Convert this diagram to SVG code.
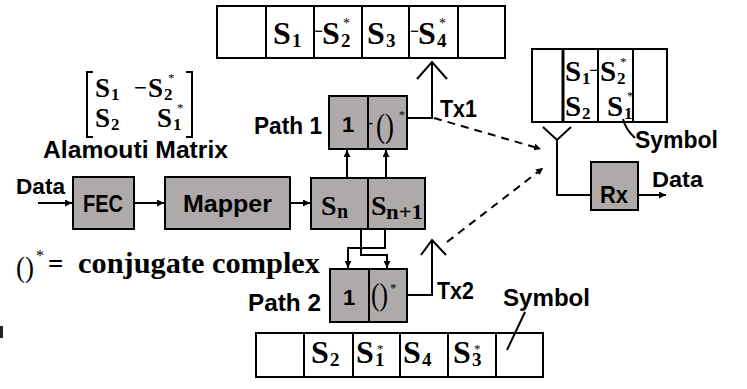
<svg xmlns="http://www.w3.org/2000/svg" width="747" height="389" viewBox="0 0 747 389">
<defs>
<style>
.box{fill:#AEAAAA;stroke:#000;stroke-width:2}
.cell{fill:#fff;stroke:#000;stroke-width:2}
.ln{fill:none;stroke:#000;stroke-width:2}
.dash{fill:none;stroke:#000;stroke-width:2;stroke-dasharray:8 6}
.lbl{font-family:"Liberation Sans",Arial,sans-serif;font-weight:bold;fill:#000}
.m{font-family:"Liberation Serif","Times New Roman",serif;font-weight:bold;fill:#000}
.mu{font-family:"Liberation Serif","Times New Roman",serif;font-weight:bold;fill:#000}
.sub{font-family:"Liberation Serif","Times New Roman",serif;font-weight:bold;fill:#000}
.ast{font-family:"Liberation Serif","Times New Roman",serif;fill:#000}
.par{font-family:"Liberation Serif","Times New Roman",serif;font-weight:normal;fill:#000}
</style>
<marker id="ah" viewBox="0 0 8 8" refX="8" refY="4" markerWidth="7" markerHeight="7" markerUnits="userSpaceOnUse" orient="auto">
<path d="M0,0 L8,4 L0,8 z" fill="#000"/>
</marker>
</defs>
<rect width="747" height="389" fill="#fff"/>

<!-- Alamouti matrix -->
<g id="matrix">
<path class="ln" d="M93,72 H87 V137 H93 M186,72 H192 V137 H186"/>
<text><tspan class="m" x="95" y="97" font-size="27">S</tspan><tspan class="sub" x="111" y="100" font-size="17">1</tspan></text>
<text class="mu" x="134" y="95" font-size="22" textLength="13" lengthAdjust="spacingAndGlyphs">−</text>
<text><tspan class="m" x="148" y="97" font-size="27">S</tspan><tspan class="sub" x="164" y="100" font-size="17">2</tspan></text>
<text class="ast" x="168" y="82" font-size="13">*</text>
<text><tspan class="m" x="95" y="127" font-size="27">S</tspan><tspan class="sub" x="111" y="130" font-size="17">2</tspan></text>
<text><tspan class="m" x="157" y="127" font-size="27">S</tspan><tspan class="sub" x="173" y="130" font-size="17">1</tspan></text>
<text class="ast" x="177" y="112" font-size="13">*</text>
<text class="lbl" x="43" y="158" font-size="23" textLength="185" lengthAdjust="spacingAndGlyphs">Alamouti Matrix</text>
</g>

<!-- conjugate legend -->
<g id="legend">
<text class="par" x="16" y="277" font-size="29" textLength="18" lengthAdjust="spacingAndGlyphs">()</text>
<text class="ast" x="36" y="261" font-size="16">*</text>
<text class="mu" x="48" y="273" font-size="27">=</text>
<text class="mu" x="78" y="273" font-size="29" textLength="242" lengthAdjust="spacingAndGlyphs">conjugate complex</text>
</g>

<!-- Data input -->
<g id="data-in"><text class="lbl" x="16" y="194" font-size="22" textLength="49" lengthAdjust="spacingAndGlyphs">Data</text></g>

<g id="fec"><rect class="box" x="73" y="177" width="61" height="52"/>
<text class="lbl" x="83" y="212" font-size="24" textLength="40" lengthAdjust="spacingAndGlyphs">FEC</text></g>

<g id="mapper"><rect class="box" x="165" y="177" width="125" height="52"/>
<text class="lbl" x="183" y="212" font-size="24" textLength="89" lengthAdjust="spacingAndGlyphs">Mapper</text></g>

<g id="sn"><rect class="box" x="311" y="178" width="114" height="51"/>
<line class="ln" x1="368" y1="178" x2="368" y2="229"/>
<text><tspan class="mu" x="321" y="215" font-size="28">S</tspan><tspan class="sub" x="337" y="218" font-size="20">n</tspan></text>
<text><tspan class="mu" x="371" y="215" font-size="28">S</tspan><tspan class="sub" x="386" y="219" font-size="20" textLength="37" lengthAdjust="spacingAndGlyphs">n+1</tspan></text>
</g>

<g id="path1"><rect class="box" x="329" y="96" width="78" height="53"/>
<line class="ln" x1="368" y1="96" x2="368" y2="149"/>
<text class="lbl" x="254" y="134" font-size="24" textLength="68" lengthAdjust="spacingAndGlyphs">Path 1</text>
<text class="lbl" x="342" y="132" font-size="22">1</text>
<text class="mu" x="368" y="128" font-size="16" textLength="5" lengthAdjust="spacingAndGlyphs">-</text>
<text class="par" x="376" y="137" font-size="33" textLength="18" lengthAdjust="spacingAndGlyphs">()</text>
<text class="ast" x="399" y="119" font-size="12">*</text>
</g>

<g id="path2"><rect class="box" x="330" y="269" width="77" height="53"/>
<line class="ln" x1="369" y1="269" x2="369" y2="322"/>
<text class="lbl" x="248" y="311" font-size="24" textLength="73" lengthAdjust="spacingAndGlyphs">Path 2</text>
<text class="lbl" x="343" y="305" font-size="22">1</text>
<text class="par" x="371" y="305" font-size="31" textLength="17" lengthAdjust="spacingAndGlyphs">()</text>
<text class="ast" x="390" y="292" font-size="13">*</text>
</g>

<g id="tx1-array">
<rect class="cell" x="217" y="6" width="288" height="52"/>
<path class="ln" d="M266,6 V58 M314,6 V58 M362,6 V58 M409,6 V58 M458,6 V58"/>
<text><tspan class="m" x="273" y="44" font-size="32">S</tspan><tspan class="sub" x="292" y="47" font-size="19">1</tspan></text>
<text class="mu" x="314" y="37" font-size="18" textLength="9" lengthAdjust="spacingAndGlyphs">−</text>
<text><tspan class="m" x="322" y="44" font-size="32">S</tspan><tspan class="sub" x="341" y="47" font-size="19">2</tspan></text>
<text class="ast" x="343" y="28" font-size="14">*</text>
<text><tspan class="m" x="367" y="44" font-size="32">S</tspan><tspan class="sub" x="386" y="47" font-size="19">3</tspan></text>
<text class="mu" x="410" y="37" font-size="18" textLength="9" lengthAdjust="spacingAndGlyphs">−</text>
<text><tspan class="m" x="418" y="44" font-size="32">S</tspan><tspan class="sub" x="437" y="47" font-size="19">4</tspan></text>
<text class="ast" x="439" y="28" font-size="14">*</text>
<text class="lbl" x="440" y="117" font-size="23" textLength="37" lengthAdjust="spacingAndGlyphs">Tx1</text>
</g>

<g id="tx2-array">
<rect class="cell" x="256" y="333" width="287" height="44"/>
<path class="ln" d="M304,333 V377 M353,333 V377 M400,333 V377 M448,333 V377 M496,333 V377"/>
<text><tspan class="m" x="311" y="363" font-size="32">S</tspan><tspan class="sub" x="330" y="366" font-size="19">2</tspan></text>
<text><tspan class="m" x="356" y="363" font-size="32">S</tspan><tspan class="sub" x="375" y="366" font-size="19">1</tspan></text>
<text class="ast" x="377" y="353" font-size="13">*</text>
<text><tspan class="m" x="403" y="363" font-size="32">S</tspan><tspan class="sub" x="422" y="366" font-size="19">4</tspan></text>
<text><tspan class="m" x="453" y="363" font-size="32">S</tspan><tspan class="sub" x="472" y="366" font-size="19">3</tspan></text>
<text class="ast" x="474" y="353" font-size="13">*</text>
<text class="lbl" x="437" y="299" font-size="23" textLength="37" lengthAdjust="spacingAndGlyphs">Tx2</text>
<text class="lbl" x="503" y="306" font-size="23" textLength="87" lengthAdjust="spacingAndGlyphs">Symbol</text>
</g>

<g id="rx-array">
<rect class="cell" x="532" y="49" width="135" height="73"/>
<line x1="563" y1="49" x2="563" y2="122" stroke="#000" stroke-width="3"/>
<path class="ln" d="M598,49 V122 M633,49 V122"/>
<text><tspan class="m" x="565" y="81" font-size="29">S</tspan><tspan class="sub" x="582" y="84" font-size="17">1</tspan></text>
<text class="mu" x="589" y="76" font-size="18" textLength="11" lengthAdjust="spacingAndGlyphs">−</text>
<text><tspan class="m" x="600" y="81" font-size="29">S</tspan><tspan class="sub" x="617" y="84" font-size="17">2</tspan></text>
<text class="ast" x="620" y="66" font-size="13">*</text>
<text><tspan class="m" x="565" y="116" font-size="29">S</tspan><tspan class="sub" x="582" y="119" font-size="17">2</tspan></text>
<text><tspan class="m" x="607" y="116" font-size="29">S</tspan><tspan class="sub" x="624" y="119" font-size="17">1</tspan></text>
<text class="ast" x="627" y="100" font-size="13">*</text>
<text class="lbl" x="635" y="148" font-size="23" textLength="83" lengthAdjust="spacingAndGlyphs">Symbol</text>
</g>

<g id="rx"><rect class="box" x="591" y="162" width="47" height="48"/>
<text class="lbl" x="600" y="203" font-size="23" textLength="28" lengthAdjust="spacingAndGlyphs">Rx</text></g>

<g id="data-out"><text class="lbl" x="652" y="187" font-size="22" textLength="51" lengthAdjust="spacingAndGlyphs">Data</text></g>

<g id="connectors">
<line class="ln" x1="38" y1="203" x2="72" y2="203" marker-end="url(#ah)"/>
<line class="ln" x1="135" y1="203" x2="164" y2="203" marker-end="url(#ah)"/>
<line class="ln" x1="291" y1="203" x2="310" y2="203" marker-end="url(#ah)"/>
<line class="ln" x1="347" y1="177" x2="347" y2="150" marker-end="url(#ah)"/>
<line class="ln" x1="386" y1="177" x2="386" y2="150" marker-end="url(#ah)"/>
<polyline class="ln" points="361,230 361,255 387,255 387,268" marker-end="url(#ah)"/>
<polyline class="ln" points="385,230 385,248 348,248 348,268" marker-end="url(#ah)"/>
<polyline class="ln" points="408,118 432,118 432,62"/>
<polyline class="ln" points="417,79 432,62 447,79"/>
<polyline class="ln" points="408,295 432,295 432,240"/>
<polyline class="ln" points="421,255 432,240 446,255"/>
<line class="dash" x1="434" y1="118" x2="541" y2="149" marker-end="url(#ah)"/>
<line class="dash" x1="447" y1="242" x2="543" y2="168" marker-end="url(#ah)"/>
<polyline class="ln" points="543,127 557,140 571,127"/>
<polyline class="ln" points="557,140 557,195 591,195"/>
<line class="ln" x1="639" y1="195" x2="666" y2="195" marker-end="url(#ah)"/>
<path class="ln" d="M623,119 Q626,130 635,138"/>
<line class="ln" x1="507" y1="350" x2="525" y2="312"/>
</g>
<rect x="0" y="326" width="3" height="12" fill="#222"/>
</svg>
